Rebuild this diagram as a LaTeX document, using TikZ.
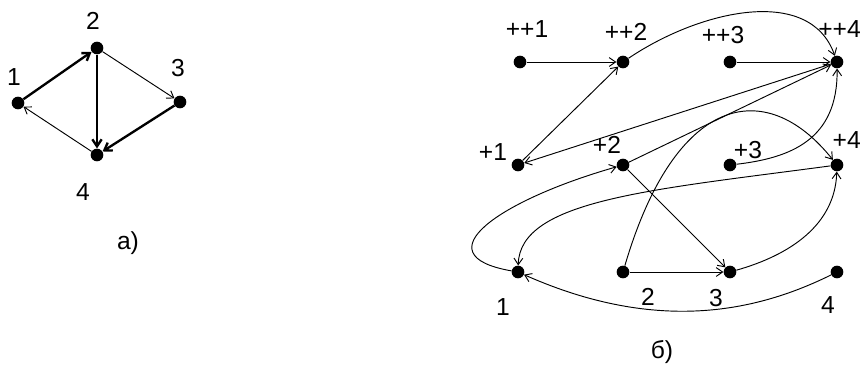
\documentclass[tikz,border=0pt]{standalone}
\usepackage{fontspec}
\setmainfont{Liberation Sans}
\usetikzlibrary{arrows.meta}
\tikzset{
  vert/.style     = {circle, fill=black, minimum size=3.8mm, inner sep=0},
  et/.style       = {font=\fontsize{21}{24}\selectfont, inner sep=0},
  link/.style     = {line width=0.8pt, -{Straight Barb[length=5.5pt,width=7.5pt]}},
  boldlink/.style = {line width=2pt, -{Straight Barb[length=6pt,width=8pt]}}
}
\begin{document}
\begin{tikzpicture}[x=0.03cm, y=-0.03cm]
  \useasboundingbox (0,0) rectangle (862,378);
  % graph a)
  \node[vert] (a1) at ( 18,103){}; \node[et] (la1) at ( 14, 77) {1};
  \node[vert] (a2) at ( 97, 48){}; \node[et] (la2) at ( 93, 21) {2};
  \node[vert] (a3) at (180,102){}; \node[et] (la3) at (178, 68) {3};
  \node[vert] (a4) at ( 97,155){}; \node[et] (la4) at ( 83,192) {4};
  \node[et] (capa) at (128,243) {а)};
  \draw[boldlink] (a1)--(a2); \draw[boldlink] (a2)--(a4); \draw[boldlink] (a3)--(a4);
  \draw[link] (a2)--(a3); \draw[link] (a4)--(a1);
  % graph b)
  \node[vert] (pp1) at (520, 62){}; \node[et] (lpp1) at (527, 29) {++1};
  \node[vert] (pp2) at (623, 62){}; \node[et] (lpp2) at (626, 32) {++2};
  \node[vert] (pp3) at (730, 62){}; \node[et] (lpp3) at (723, 35) {++3};
  \node[vert] (pp4) at (837, 62){}; \node[et,anchor=east] (lpp4) at (861, 29) {++4};
  \node[vert] (p1)  at (518,165){}; \node[et] (lp1)  at (493,152) {+1};
  \node[vert] (p2)  at (623,165){}; \node[et] (lp2)  at (607,145) {+2};
  \node[vert] (p3)  at (730,165){}; \node[et] (lp3)  at (748,150) {+3};
  \node[vert] (p4)  at (837,165){}; \node[et,anchor=east] (lp4) at (861,140) {+4};
  \node[vert] (n1)  at (518,272){}; \node[et] (ln1)  at (503,307) {1};
  \node[vert] (n2)  at (623,272){}; \node[et] (ln2)  at (648,297) {2};
  \node[vert] (n3)  at (730,272){}; \node[et] (ln3)  at (716,298) {3};
  \node[vert] (n4)  at (837,272){}; \node[et] (ln4)  at (828,305) {4};
  \node[et] (capb) at (662,352) {б)};
  \draw[link] (pp1)--(pp2); \draw[link] (pp3)--(pp4);
  \draw[link] (p1)--(pp2);  \draw[link] (pp4)--(p1); \draw[link] (p2)--(pp4);
  \draw[link] (p2)--(n3);   \draw[link] (n2)--(n3);
  \draw[link] (pp2) .. controls (700,10) and (810,-15) .. (pp4);
  \draw[link] (p3) .. controls (790,158) and (838,140) .. (pp4);
  \draw[link] (n2) .. controls (675,95) and (765,75) .. (p4);
  \draw[link] (n3) .. controls (790,255) and (835,225) .. (p4);
  \draw[link] (n4) .. controls (760,310) and (660,335) .. (n1);
  \draw[link] (n1) .. controls (420,255) and (500,200) .. (p2);
  \draw[link] (p4) .. controls (650,190) and (520,200) .. (n1);
\end{tikzpicture}
\end{document}
